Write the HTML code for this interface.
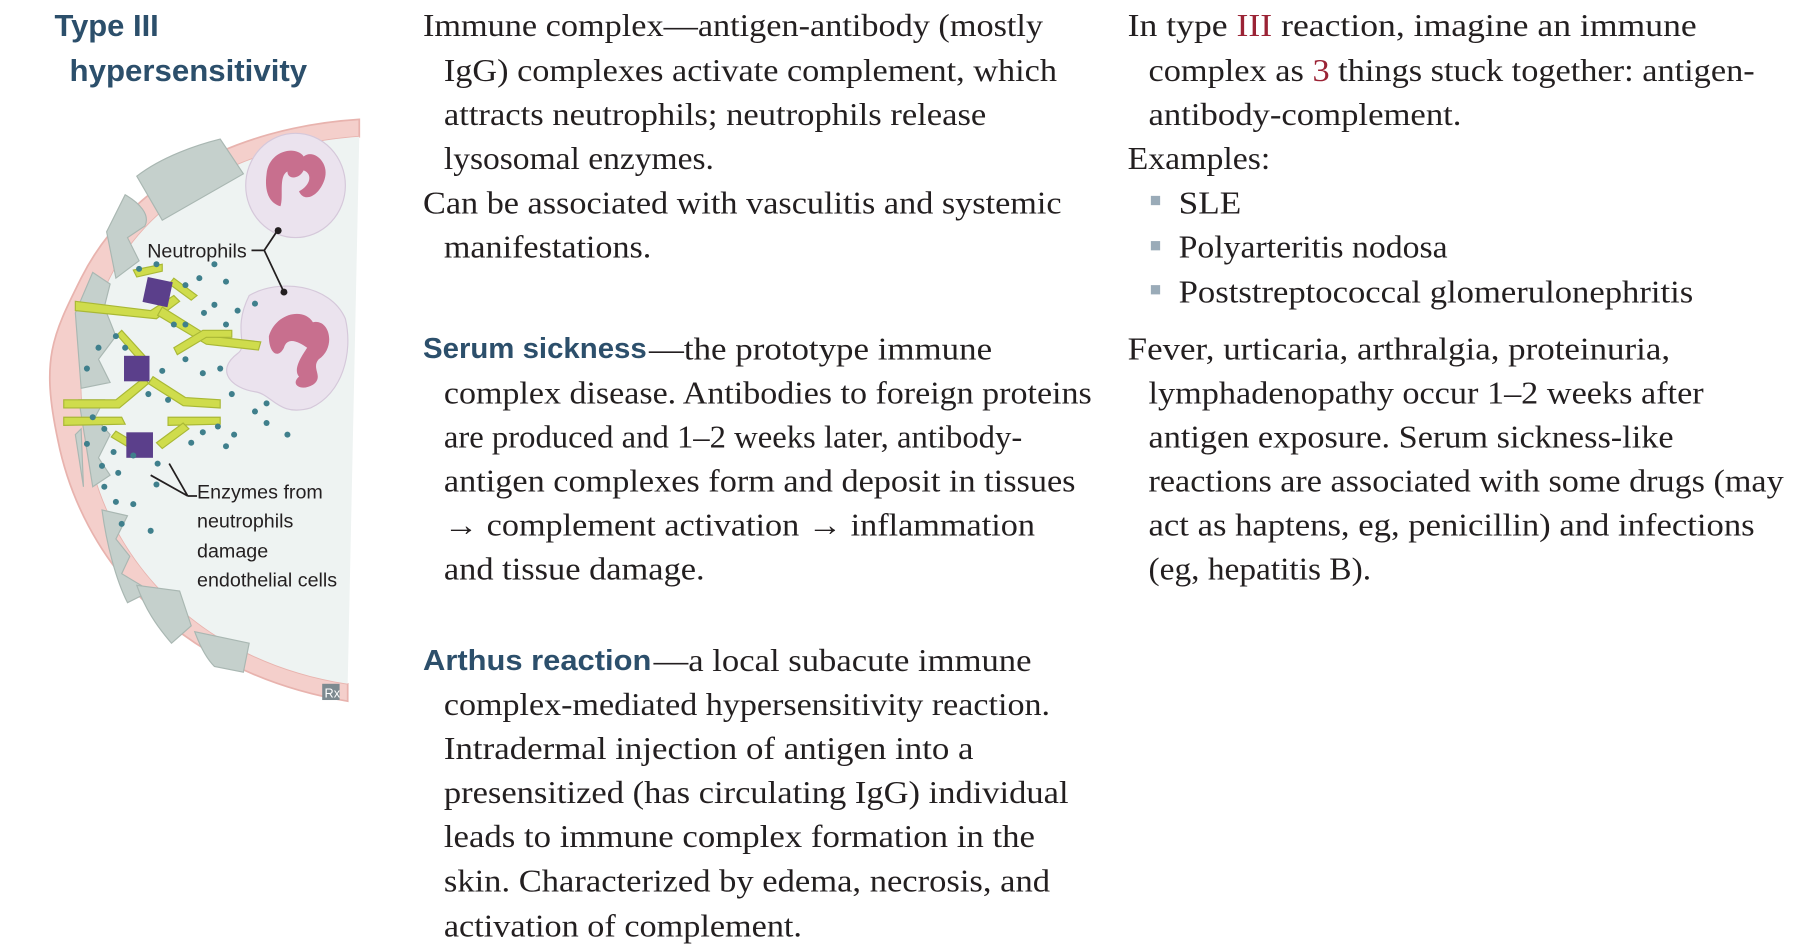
<!DOCTYPE html>
<html><head><meta charset="utf-8"><style>
html,body{margin:0;padding:0;background:#fff;}
svg{display:block;}
.s{font-family:"Liberation Serif",serif;font-size:27px;fill:#231f20;}
.b{font-family:"Liberation Sans",sans-serif;font-weight:bold;fill:#2c4f6b;}
.l{font-family:"Liberation Sans",sans-serif;font-size:17px;fill:#231f20;}
</style></head><body>
<svg width="1808" height="944" viewBox="0 0 1560 814.5">
<g>
<text class="b" x="47" y="31" font-size="26" textLength="90" lengthAdjust="spacingAndGlyphs">Type III</text>
<text class="b" x="60" y="70" font-size="26" textLength="205" lengthAdjust="spacingAndGlyphs">hypersensitivity</text>
</g>
<g>
<path d="M310,103 C200,110 110,160 70,240 C45,290 35,310 50,380 C70,480 150,580 300,605 L300,590 C170,570 90,480 75,380 C65,320 70,290 95,240 C130,170 210,125 310,118 Z" fill="#f4cfcb" stroke="#e8b3ae" stroke-width="1.5"/>
<path d="M310,118 C210,125 130,170 95,240 C70,290 65,320 75,380 C90,480 170,570 300,590 Z" fill="#eef3f2"/>
<g fill="#c5d0cc" stroke="#a9b7b2" stroke-width="1">
<path d="M118,152 C140,135 170,125 190,120 L210,150 L140,190 Z"/>
<path d="M92,200 L108,168 C120,175 130,185 125,195 L110,205 L120,225 L100,240 Z"/>
<path d="M65,270 L80,235 L95,245 L90,265 L100,290 L85,310 L95,330 L70,335 Z"/>
<path d="M68,345 L90,345 L82,360 L95,375 L85,395 L95,410 L80,420 Z"/>
<path d="M65,375 L70,370 L72,420 Z"/>
<path d="M88,440 L110,445 L100,465 L112,480 L105,495 L130,510 L110,520 C100,500 92,470 88,440 Z"/>
<path d="M118,505 L155,510 L165,540 L148,555 C135,540 125,525 118,505 Z"/>
<path d="M168,545 L215,555 L210,580 L185,575 C178,568 172,556 168,545 Z"/>
</g>
<g>
<ellipse cx="255" cy="160" rx="43" ry="45" fill="#ebe3ee" stroke="#d5c8da"/>
<path d="M230,150 C232,130 255,125 262,135 C270,128 285,140 280,155 C275,170 262,175 258,165 C268,160 270,150 262,147 C258,155 248,155 248,148 C240,152 245,170 242,178 C232,175 228,165 230,150 Z" fill="#c86f8e"/>
</g>
<g>
<path d="M215,255 C240,240 285,245 298,275 C305,305 295,340 268,352 C240,360 235,340 220,338 C200,335 185,320 205,305 C215,298 200,285 215,255 Z" fill="#ebe3ee" stroke="#d5c8da"/>
<path d="M232,290 C238,270 262,265 270,278 C285,275 290,300 275,310 C268,318 280,325 270,332 C260,338 250,332 258,325 C252,318 262,305 265,300 C258,295 248,290 245,300 C240,310 232,305 232,290 Z" fill="#c86f8e"/>
</g>
<g stroke="#a9b835" stroke-width="1" fill="#cfdc4c">
<path d="M65,260 L130,268 L150,255 L155,260 L135,275 L65,268 Z"/>
<path d="M140,265 L180,290 L225,295 L223,302 L178,297 L136,272 Z"/>
<path d="M115,233 L140,228 L140,234 L118,239 Z"/>
<path d="M150,240 L170,255 L165,259 L146,245 Z"/>
<path d="M105,285 L125,307 L120,311 L101,289 Z"/>
<path d="M150,300 L175,285 L200,285 L200,291 L178,291 L153,306 Z"/>
<path d="M125,325 L100,345 L55,345 L55,352 L103,352 L128,331 Z"/>
<path d="M132,325 L160,343 L190,345 L190,352 L158,350 L128,331 Z"/>
<path d="M55,360 L105,360 L108,366 L55,367 Z"/>
<path d="M145,360 L190,360 L190,366 L145,367 Z"/>
<path d="M100,372 L120,384 L116,389 L96,377 Z"/>
<path d="M135,382 L158,365 L163,370 L140,387 Z"/>
</g>
<g fill="#5b3f8b">
<rect x="125" y="241" width="22" height="22" transform="rotate(12 136 252)"/>
<rect x="107" y="307" width="22" height="22"/>
<rect x="109" y="373" width="23" height="22"/>
</g>
<g fill="#3f7f8c">
<circle cx="120" cy="232" r="2.6"/><circle cx="135" cy="228" r="2.6"/><circle cx="185" cy="228" r="2.6"/><circle cx="160" cy="246" r="2.6"/><circle cx="172" cy="240" r="2.6"/><circle cx="195" cy="243" r="2.6"/>
<circle cx="185" cy="263" r="2.6"/><circle cx="176" cy="270" r="2.6"/><circle cx="205" cy="268" r="2.6"/><circle cx="220" cy="262" r="2.6"/><circle cx="195" cy="280" r="2.6"/>
<circle cx="150" cy="280" r="2.6"/><circle cx="160" cy="280" r="2.6"/><circle cx="100" cy="290" r="2.6"/><circle cx="85" cy="300" r="2.6"/><circle cx="108" cy="300" r="2.6"/>
<circle cx="75" cy="318" r="2.6"/><circle cx="160" cy="310" r="2.6"/><circle cx="175" cy="322" r="2.6"/><circle cx="190" cy="318" r="2.6"/><circle cx="140" cy="320" r="2.6"/>
<circle cx="128" cy="340" r="2.6"/><circle cx="145" cy="345" r="2.6"/><circle cx="200" cy="340" r="2.6"/><circle cx="230" cy="348" r="2.6"/><circle cx="220" cy="355" r="2.6"/>
<circle cx="80" cy="360" r="2.6"/><circle cx="90" cy="370" r="2.6"/><circle cx="175" cy="373" r="2.6"/><circle cx="188" cy="368" r="2.6"/><circle cx="202" cy="375" r="2.6"/><circle cx="230" cy="365" r="2.6"/><circle cx="248" cy="375" r="2.6"/>
<circle cx="75" cy="383" r="2.6"/><circle cx="98" cy="390" r="2.6"/><circle cx="115" cy="393" r="2.6"/><circle cx="165" cy="382" r="2.6"/><circle cx="195" cy="385" r="2.6"/>
<circle cx="88" cy="402" r="2.6"/><circle cx="102" cy="408" r="2.6"/><circle cx="136" cy="400" r="2.6"/><circle cx="90" cy="420" r="2.6"/><circle cx="135" cy="418" r="2.6"/>
<circle cx="100" cy="433" r="2.6"/><circle cx="115" cy="435" r="2.6"/><circle cx="105" cy="452" r="2.6"/><circle cx="130" cy="458" r="2.6"/>
</g>
<g stroke="#231f20" stroke-width="1.5" fill="none">
<path d="M217,216 L228,216 L240,198 M228,216 L245,252"/>
<path d="M162,428 L130,410 M162,428 L146,400 M162,428 L170,428"/>
</g>
<circle cx="240" cy="199" r="3" fill="#231f20"/><circle cx="245" cy="252" r="3" fill="#231f20"/>
<text class="l" x="127" y="222">Neutrophils</text>
<g>
<text class="l" x="170" y="430">Enzymes from</text>
<text class="l" x="170" y="455">neutrophils</text>
<text class="l" x="170" y="481">damage</text>
<text class="l" x="170" y="506">endothelial cells</text>
</g>
<g><rect x="278" y="590" width="15" height="14" fill="#7d8a90"/><text x="280" y="602" font-family="Liberation Sans,sans-serif" font-size="11" fill="#fff">Rx</text></g>
</g>
<g>
<text class="s" x="365" y="31" textLength="535" lengthAdjust="spacingAndGlyphs">Immune complex—antigen-antibody (mostly</text>
<text class="s" x="383" y="70" textLength="529" lengthAdjust="spacingAndGlyphs">IgG) complexes activate complement, which</text>
<text class="s" x="383" y="108" textLength="468" lengthAdjust="spacingAndGlyphs">attracts neutrophils; neutrophils release</text>
<text class="s" x="383" y="146" textLength="233" lengthAdjust="spacingAndGlyphs">lysosomal enzymes.</text>
<text class="s" x="365" y="184" textLength="551" lengthAdjust="spacingAndGlyphs">Can be associated with vasculitis and systemic</text>
<text class="s" x="383" y="222" textLength="179" lengthAdjust="spacingAndGlyphs">manifestations.</text>
<text class="b" x="365" y="309" font-size="25" textLength="193" lengthAdjust="spacingAndGlyphs">Serum sickness</text>
<text class="s" x="560" y="310" textLength="296" lengthAdjust="spacingAndGlyphs">—the prototype immune</text>
<text class="s" x="383" y="348" textLength="559" lengthAdjust="spacingAndGlyphs">complex disease. Antibodies to foreign proteins</text>
<text class="s" x="383" y="386" textLength="499" lengthAdjust="spacingAndGlyphs">are produced and 1–2 weeks later, antibody-</text>
<text class="s" x="383" y="424" textLength="545" lengthAdjust="spacingAndGlyphs">antigen complexes form and deposit in tissues</text>
<text class="s" x="383" y="462" textLength="510" lengthAdjust="spacingAndGlyphs">→ complement activation → inflammation</text>
<text class="s" x="383" y="500" textLength="225" lengthAdjust="spacingAndGlyphs">and tissue damage.</text>
<text class="b" x="365" y="578" font-size="25" textLength="197" lengthAdjust="spacingAndGlyphs">Arthus reaction</text>
<text class="s" x="564" y="579" textLength="326" lengthAdjust="spacingAndGlyphs">—a local subacute immune</text>
<text class="s" x="383" y="617" textLength="523" lengthAdjust="spacingAndGlyphs">complex-mediated hypersensitivity reaction.</text>
<text class="s" x="383" y="655" textLength="457" lengthAdjust="spacingAndGlyphs">Intradermal injection of antigen into a</text>
<text class="s" x="383" y="693" textLength="539" lengthAdjust="spacingAndGlyphs">presensitized (has circulating IgG) individual</text>
<text class="s" x="383" y="731" textLength="510" lengthAdjust="spacingAndGlyphs">leads to immune complex formation in the</text>
<text class="s" x="383" y="769" textLength="523" lengthAdjust="spacingAndGlyphs">skin. Characterized by edema, necrosis, and</text>
<text class="s" x="383" y="808" textLength="309" lengthAdjust="spacingAndGlyphs">activation of complement.</text>
</g>
<g>
<text class="s" x="973" y="31" textLength="491" lengthAdjust="spacingAndGlyphs">In type <tspan fill="#9b2335">III</tspan> reaction, imagine an immune</text>
<text class="s" x="991" y="70" textLength="523" lengthAdjust="spacingAndGlyphs">complex as <tspan fill="#9b2335">3</tspan> things stuck together: antigen-</text>
<text class="s" x="991" y="108" textLength="270" lengthAdjust="spacingAndGlyphs">antibody-complement.</text>
<text class="s" x="973" y="146" textLength="123" lengthAdjust="spacingAndGlyphs">Examples:</text>
<g fill="#9aabb8"><rect x="993" y="169" width="8" height="8"/><rect x="993" y="208" width="8" height="8"/><rect x="993" y="246" width="8" height="8"/></g>
<text class="s" x="1017" y="184" textLength="54" lengthAdjust="spacingAndGlyphs">SLE</text>
<text class="s" x="1017" y="222" textLength="232" lengthAdjust="spacingAndGlyphs">Polyarteritis nodosa</text>
<text class="s" x="1017" y="261" textLength="444" lengthAdjust="spacingAndGlyphs">Poststreptococcal glomerulonephritis</text>
<text class="s" x="973" y="310" textLength="468" lengthAdjust="spacingAndGlyphs">Fever, urticaria, arthralgia, proteinuria,</text>
<text class="s" x="991" y="348" textLength="479" lengthAdjust="spacingAndGlyphs">lymphadenopathy occur 1–2 weeks after</text>
<text class="s" x="991" y="386" textLength="453" lengthAdjust="spacingAndGlyphs">antigen exposure. Serum sickness-like</text>
<text class="s" x="991" y="424" textLength="548" lengthAdjust="spacingAndGlyphs">reactions are associated with some drugs (may</text>
<text class="s" x="991" y="462" textLength="523" lengthAdjust="spacingAndGlyphs">act as haptens, eg, penicillin) and infections</text>
<text class="s" x="991" y="500" textLength="192" lengthAdjust="spacingAndGlyphs">(eg, hepatitis B).</text>
</g>
</svg>
</body></html>
